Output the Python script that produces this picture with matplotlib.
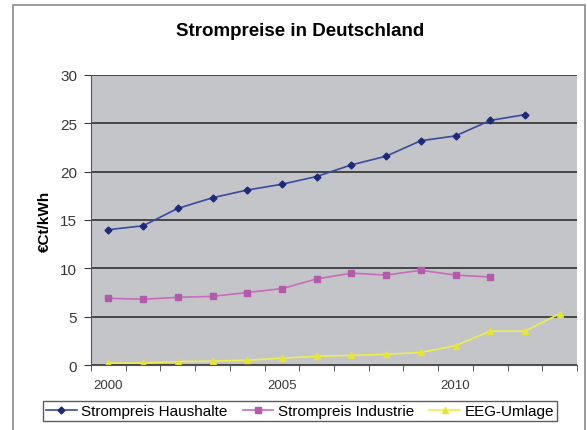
import matplotlib
matplotlib.use("Agg")
import matplotlib.pyplot as plt
from matplotlib.patches import Rectangle
import numpy as np

plt.rcParams['font.family'] = ['Liberation Sans', 'DejaVu Sans']

years = list(range(2000, 2014))
haushalte = [14.0, 14.4, 16.2, 17.3, 18.1, 18.7, 19.5, 20.7, 21.6, 23.2, 23.7, 25.3, 25.9]
industrie = [6.9, 6.8, 7.0, 7.1, 7.5, 7.9, 8.9, 9.5, 9.3, 9.8, 9.3, 9.1]
eeg_umlage = [0.2, 0.2, 0.35, 0.4, 0.5, 0.7, 0.9, 1.0, 1.1, 1.3, 2.0, 3.5, 3.5, 5.3]
labels = ["Strompreis Haushalte", "Strompreis Industrie", "EEG-Umlage"]

fig = plt.figure(figsize=(5.87, 4.31), dpi=100)
fig.patches.append(Rectangle((13 / 587, -0.02), 572 / 587, 1 - 6 / 431 + 0.02,
                             transform=fig.transFigure, fill=False,
                             edgecolor="#8a8a8a", linewidth=1.2, clip_on=False))
ax = fig.add_axes([91 / 587, 1 - 366 / 431, (577 - 91) / 587, (366 - 76) / 431])
ax.set_facecolor("#c3c5c9")

x = np.arange(len(years))
ax.plot(x[:len(haushalte)], haushalte, color="#3a4a9c", marker="D", markersize=3.5,
        markerfacecolor="#1c2a78", markeredgecolor="#1c2a78", linewidth=1.2, label=labels[0])
ax.plot(x[:len(industrie)], industrie, color="#c86cbc", marker="s", markersize=4.5,
        markerfacecolor="#b45aac", markeredgecolor="#b45aac", linewidth=1.2, label=labels[1])
ax.plot(x[:len(eeg_umlage)], eeg_umlage, color="#eeee50", marker="^", markersize=4.5,
        markerfacecolor="#e6e630", markeredgecolor="#e6e630", linewidth=1.2, label=labels[2])

ax.set_xlim(-0.5, len(years) - 0.5)
ax.set_ylim(0, 30)
ax.set_yticks(range(0, 31, 5))
ax.yaxis.grid(True, color="#3c3c3c", linewidth=1.3)
ax.set_axisbelow(True)

ax.set_xticks(np.arange(-0.5, len(years), 1), minor=True)
ax.set_xticks([0, 5, 10])
ax.set_xticklabels([str(years[i]) for i in [0, 5, 10]])
ax.tick_params(axis="x", which="major", length=0, pad=10, labelsize=9.5, colors="#383838")
ax.tick_params(axis="x", which="minor", length=4, direction="out", color="#404040")
ax.tick_params(axis="y", length=5, direction="out", labelsize=11, colors="#383838", pad=5)

for side in ["top", "right"]:
    ax.spines[side].set_visible(False)
ax.spines["left"].set_color("#555555")
ax.spines["bottom"].set_color("#555555")

ax.set_ylabel("€Ct/kWh", fontsize=11, fontweight="bold", labelpad=6)
fig.text(300 / 587, 1 - 32 / 431, "Strompreise in Deutschland", ha="center", va="center",
         fontsize=13.5, fontweight="bold")

leg = fig.legend(loc="center", bbox_to_anchor=(300 / 587, 1 - 412 / 431), ncol=3,
                 fontsize=11, frameon=True, fancybox=False, edgecolor="#333333",
                 handlelength=2.0, columnspacing=1.0, handletextpad=0.3, borderpad=0.2)
leg.get_frame().set_linewidth(1.0)

fig.savefig("out.png", dpi=100)
